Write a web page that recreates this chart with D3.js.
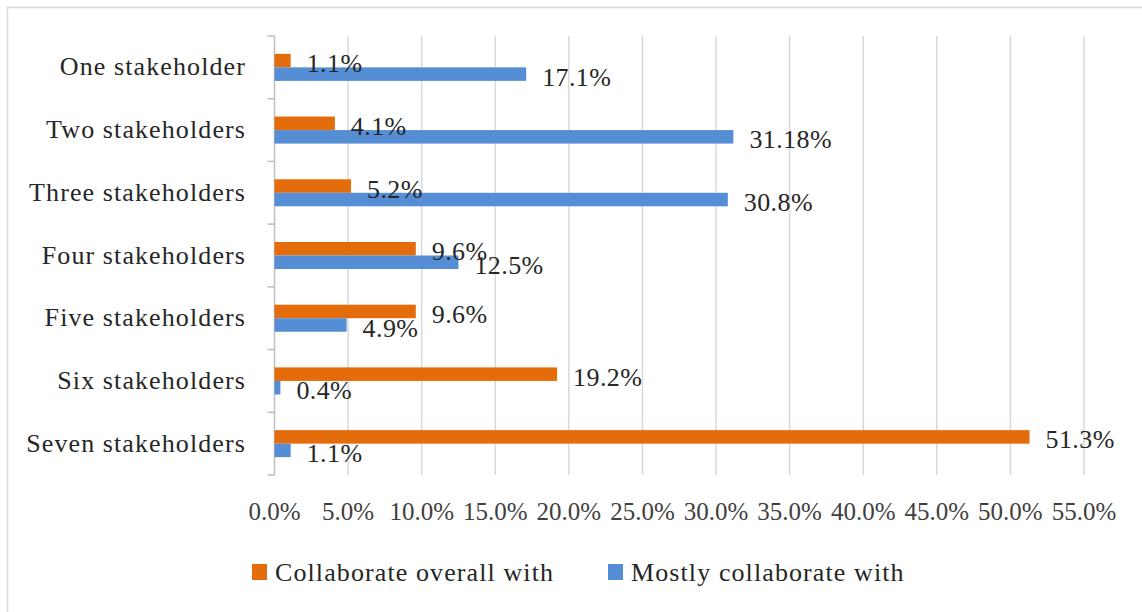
<!DOCTYPE html>
<html>
<head>
<meta charset="utf-8">
<script src="https://cdn.jsdelivr.net/npm/d3@7"></script>
<style>
  html, body { margin: 0; padding: 0; background: #fff; }
  svg { display: block; }
  text { font-family: "Liberation Serif", "Times New Roman", serif; }
</style>
</head>
<body>
<svg id="chart" width="1142" height="612"></svg>
<script>
const categories = ["One stakeholder", "Two stakeholders", "Three stakeholders", "Four stakeholders", "Five stakeholders", "Six stakeholders", "Seven stakeholders"];
const seriesNames = ["Collaborate overall with", "Mostly collaborate with"];
const collaborateOverall = [1.1, 4.1, 5.2, 9.6, 9.6, 19.2, 51.3];
const mostlyCollaborate = [17.1, 31.18, 30.8, 12.5, 4.9, 0.4, 1.1];
const tickValues = [0, 5, 10, 15, 20, 25, 30, 35, 40, 45, 50, 55];
const colors = ["#E46C0A", "#558ED5"];

const svg = d3.select("#chart");
const W = 1142, H = 612;

// chart border (left/top visible, right/bottom run off the picture)
svg.append("rect")
  .attr("x", 7.5).attr("y", 7.5)
  .attr("width", W).attr("height", H)
  .attr("fill", "#fff")
  .attr("stroke", "#D9D9D9").attr("stroke-width", 1.5);

const plot = { left: 274.5, right: 1084, top: 36, bottom: 475 };

const x = d3.scaleLinear().domain([0, 55]).range([plot.left, plot.right]);
const y0 = d3.scaleBand().domain(categories).range([plot.top, plot.bottom]).padding(0);
const y1 = d3.scaleBand().domain(seriesNames).range([0, y0.bandwidth()]).paddingInner(0).paddingOuter(1.32);

// gridlines
svg.append("g")
  .selectAll("line")
  .data(tickValues.filter(d => d > 0))
  .join("line")
  .attr("x1", d => x(d)).attr("x2", d => x(d))
  .attr("y1", plot.top).attr("y2", plot.bottom)
  .attr("stroke", "#D9D9D9").attr("stroke-width", 1.5);

// left axis line + category boundary ticks
svg.append("line")
  .attr("x1", x(0)).attr("x2", x(0))
  .attr("y1", plot.top).attr("y2", plot.bottom)
  .attr("stroke", "#BFBFBF").attr("stroke-width", 1.5);

const boundaries = categories.map(c => y0(c)).concat([y0(categories[categories.length - 1]) + y0.bandwidth()]);
svg.append("g")
  .selectAll("line")
  .data(boundaries)
  .join("line")
  .attr("x1", x(0) - 7).attr("x2", x(0))
  .attr("y1", d => d).attr("y2", d => d)
  .attr("stroke", "#BFBFBF").attr("stroke-width", 1.5);

// category labels
svg.append("g")
  .selectAll("text")
  .data(categories)
  .join("text")
  .attr("x", 246)
  .attr("y", d => y0(d) + y0.bandwidth() / 2 - 1)
  .attr("dy", "0.35em")
  .attr("text-anchor", "end")
  .attr("font-size", 26)
  .attr("letter-spacing", "1.1px")
  .attr("fill", "#262626")
  .text(d => d);

// x tick labels
svg.append("g")
  .selectAll("text")
  .data(tickValues)
  .join("text")
  .attr("x", d => x(d))
  .attr("y", 520)
  .attr("text-anchor", "middle")
  .attr("font-size", 25)
  .attr("fill", "#404040")
  .text(d => d3.format(".1f")(d) + "%");

// bars
const rows = categories.map((c, i) => ({
  category: c,
  values: [
    { series: seriesNames[0], value: collaborateOverall[i], color: colors[0] },
    { series: seriesNames[1], value: mostlyCollaborate[i], color: colors[1] }
  ]
}));

const groups = svg.append("g")
  .selectAll("g")
  .data(rows)
  .join("g")
  .attr("transform", d => `translate(0,${y0(d.category)})`);

groups.selectAll("rect")
  .data(d => d.values)
  .join("rect")
  .attr("x", x(0))
  .attr("y", d => y1(d.series))
  .attr("width", d => x(d.value) - x(0))
  .attr("height", y1.bandwidth())
  .attr("fill", d => d.color);

groups.selectAll("text")
  .data(d => d.values)
  .join("text")
  .attr("x", d => x(d.value) + 16)
  .attr("y", d => y1(d.series) + y1.bandwidth() / 2 + 2.5)
  .attr("dy", "0.35em")
  .attr("font-size", 26)
  .attr("letter-spacing", "0.4px")
  .attr("fill", "#262626")
  .text(d => d.value + "%");

// legend
const legend = svg.append("g");
const legendItems = [
  { name: seriesNames[0], color: colors[0], x: 252 },
  { name: seriesNames[1], color: colors[1], x: 608 }
];
const lg = legend.selectAll("g").data(legendItems).join("g")
  .attr("transform", d => `translate(${d.x},564)`);
lg.append("rect").attr("width", 15).attr("height", 16).attr("fill", d => d.color);
lg.append("text")
  .attr("x", 23).attr("y", 8)
  .attr("dy", "0.35em")
  .attr("font-size", 26)
  .attr("letter-spacing", "1.1px")
  .attr("fill", "#262626")
  .text(d => d.name);
</script>
</body>
</html>
